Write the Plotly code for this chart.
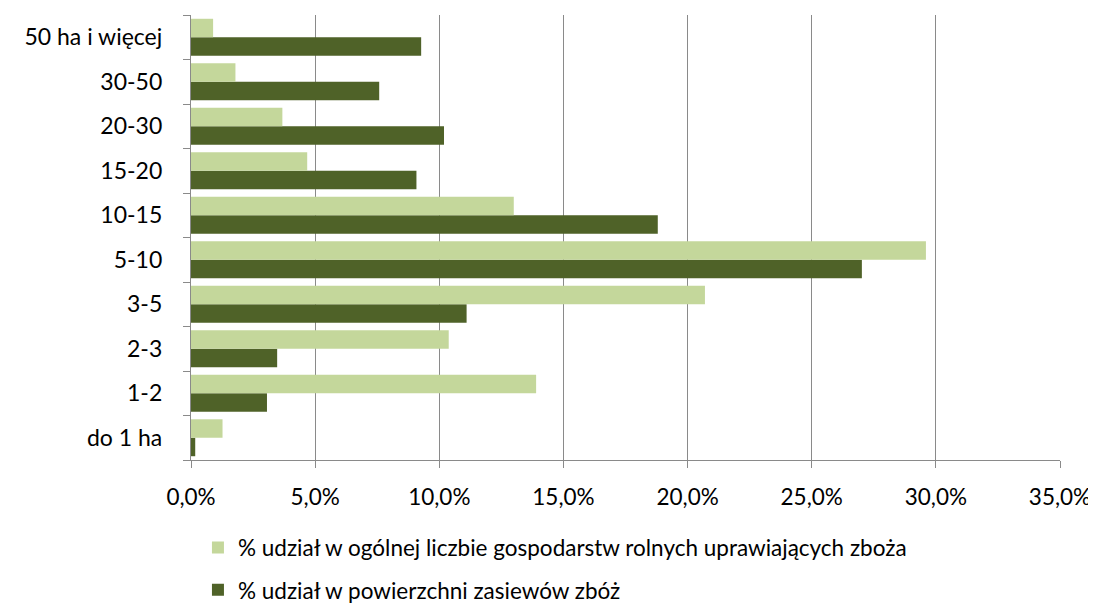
import plotly.graph_objects as go

categories = ["do 1 ha", "1-2", "2-3", "3-5", "5-10", "10-15", "15-20", "20-30", "30-50", "50 ha i więcej"]
share_farms = [1.27, 13.9, 10.38, 20.7, 29.6, 13.0, 4.68, 3.68, 1.79, 0.89]
share_area = [0.17, 3.06, 3.47, 11.1, 27.02, 18.8, 9.08, 10.19, 7.58, 9.27]
x_ticks = [0, 5, 10, 15, 20, 25, 30, 35]
x_labels = ["0,0%", "5,0%", "10,0%", "15,0%", "20,0%", "25,0%", "30,0%", "35,0%"]

name_farms = "% udział w ogólnej liczbie gospodarstw rolnych uprawiających zboża"
name_area = "% udział w powierzchni zasiewów zbóż"

font = "Lato, 'Open Sans', sans-serif"
grid = "#8a8a8a"

fig = go.Figure()
# dark series first so it sits below the light one in each group
fig.add_trace(go.Bar(y=categories, x=share_area, orientation="h", name=name_area,
                     legendgroup="b", legendrank=2,
                     marker=dict(color="#4f6228", line=dict(width=0))))
fig.add_trace(go.Bar(y=categories, x=share_farms, orientation="h", name=name_farms,
                     legendgroup="a", legendrank=1,
                     marker=dict(color="#c4d79b", line=dict(width=0))))

# page body has an 8px margin, so the figure is sized to fit inside it
fig.update_layout(
    width=1088, height=598,
    margin=dict(l=183, r=36, t=7, b=146),
    plot_bgcolor="white", paper_bgcolor="white",
    barmode="group", bargap=0.17, bargroupgap=0,
    font=dict(family=font, size=22.5, color="black"),
    showlegend=True,
    legend=dict(orientation="v", x=0.008, xanchor="left",
                yref="container", y=0.133, yanchor="top",
                traceorder="grouped", tracegroupgap=10, bgcolor="rgba(0,0,0,0)",
                font=dict(size=22.5), itemwidth=30),
    xaxis=dict(range=[0, 35], tickvals=x_ticks, ticktext=x_labels,
               showgrid=True, gridcolor=grid, gridwidth=1.3,
               showline=True, linecolor=grid, linewidth=1.3,
               ticks="outside", ticklen=7, tickcolor=grid, tickwidth=1.3,
               ticklabelstandoff=10, zeroline=False, fixedrange=True,
               automargin=False),
    yaxis=dict(type="category", categoryorder="array", categoryarray=categories,
               showgrid=False, showline=True, linecolor=grid, linewidth=1.3,
               ticks="outside", ticklen=7, tickcolor=grid, tickwidth=1.3,
               tickson="boundaries", ticklabelstandoff=23, fixedrange=True,
               tickfont=dict(size=23), automargin=False),
)

fig.write_html("out.html")
